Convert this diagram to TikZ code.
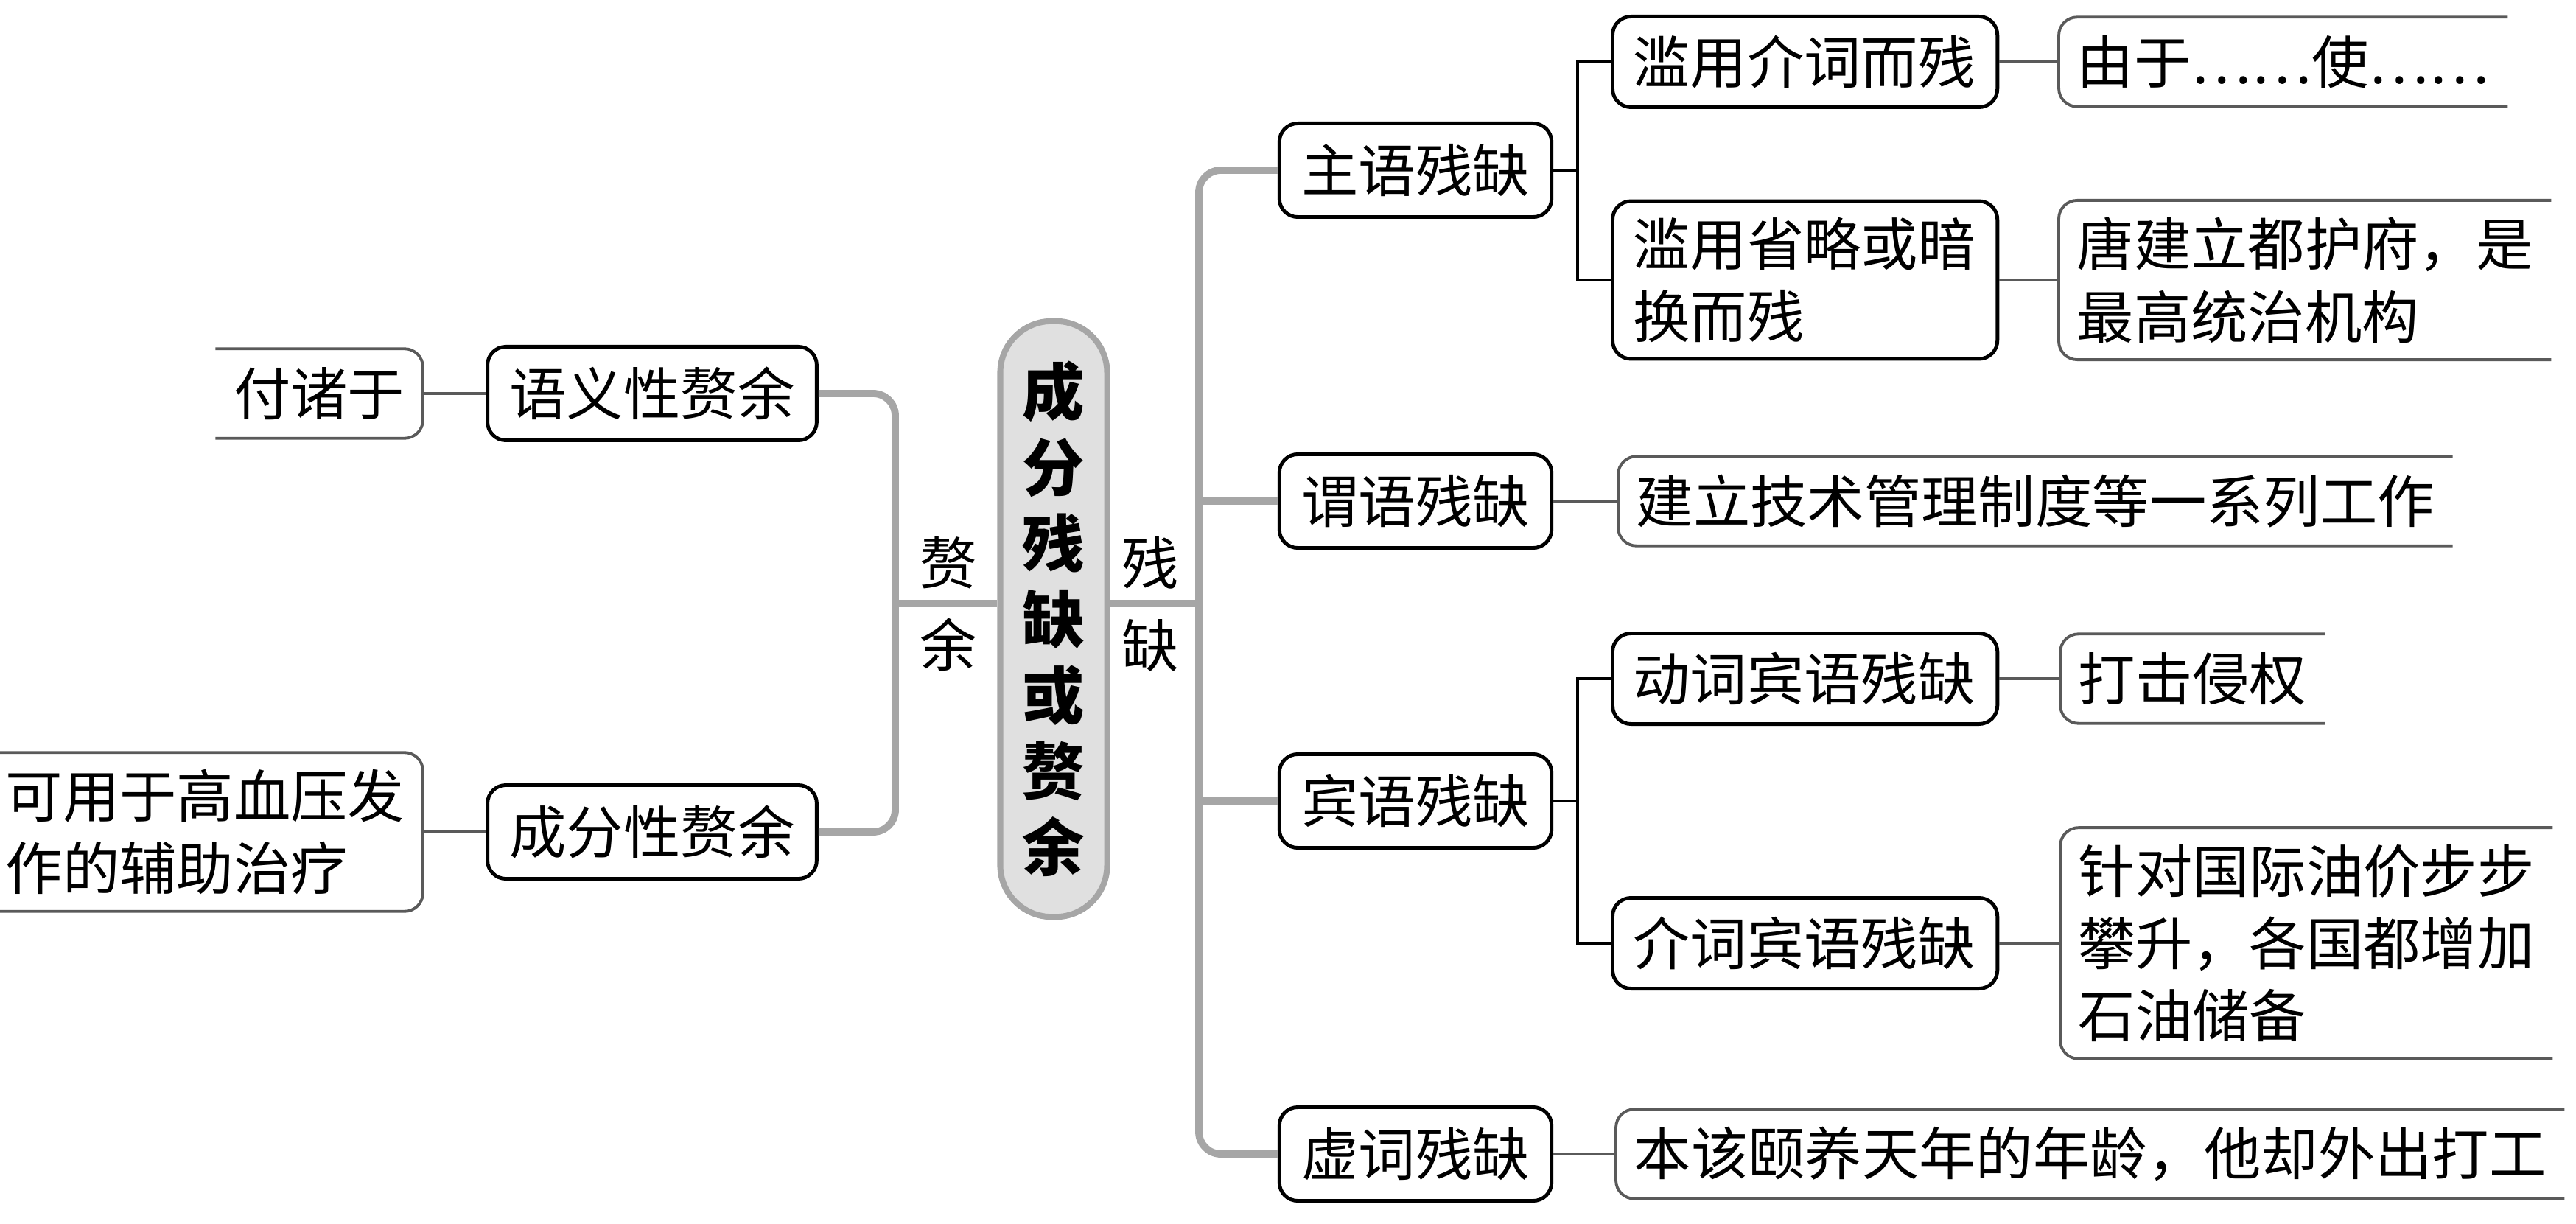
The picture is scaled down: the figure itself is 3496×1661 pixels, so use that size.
\documentclass[tikz,border=0pt]{standalone}
\usepackage{fontspec}
\setmainfont{Noto Sans CJK SC}
\definecolor{trunkgray}{HTML}{A6A6A6}
\definecolor{rootfill}{HTML}{E0E0E0}
\definecolor{leafgray}{HTML}{5A5A5A}
\tikzset{
  rootbox/.style={draw=trunkgray, fill=rootfill, line width=2.3pt, rounded corners=0.7cm,
    minimum width=1.45cm, minimum height=8.08cm, inner sep=0pt, align=center,
    font=\bfseries\fontsize{24pt}{29.3pt}\selectfont},
  topic/.style={draw, line width=1.4pt, rounded corners=0.25cm, minimum height=1.27cm,
    inner xsep=0.3cm, font=\fontsize{22pt}{28pt}\selectfont},
  subtopic/.style={draw, line width=1.4pt, rounded corners=0.25cm, minimum height=1.23cm,
    inner xsep=0.28cm, inner ysep=0.22cm, text width=4.66cm, align=left, anchor=west,
    font=\fontsize{22pt}{28pt}\selectfont},
  leaf/.style={inner xsep=0.24cm, inner ysep=0.22cm, minimum height=1.2cm, align=left,
    font=\fontsize{22pt}{28pt}\selectfont},
  sidelabel/.style={inner sep=0pt, align=center, font=\fontsize{22pt}{31.6pt}\selectfont},
  trunk/.style={draw=trunkgray, line width=2.8pt},
  branch/.style={draw, line width=1.4pt},
  leafconn/.style={draw=leafgray, line width=1.4pt},
  leafline/.style={draw=leafgray, line width=1.1pt, rounded corners=0.25cm}
}
\begin{document}
\begin{tikzpicture}[x=0.01cm, y=-0.01cm]
\useasboundingbox (0,0) rectangle (3496,1661);
% root
\node[rootbox] (main) at (1430,840) {成\\分\\残\\缺\\或\\赘\\余};
\coordinate (rj) at (1627,819);
\coordinate (lj) at (1215,819);
\node[sidelabel] (quelabel) at (1561,820) {残\\缺};
\node[sidelabel] (yulabel) at (1287,820) {赘\\余};
% left side
\node[topic] (yiyi) at (885,534) {语义性赘余};
\node[topic] (chengfen) at (885,1129) {成分性赘余};
\node[leaf, anchor=east] (fu) at (574,534) {付诸于};
\node[leaf, anchor=east] (ke) at (574,1129) {可用于高血压发\\作的辅助治疗};
% right side
\node[topic] (zhu) at (1921,231) {主语残缺};
\node[topic] (wei) at (1921,680) {谓语残缺};
\node[topic] (bin) at (1921,1087) {宾语残缺};
\node[topic] (xu) at (1921,1566) {虚词残缺};
\node[subtopic] (lan1) at (2186,84) {滥用介词而残};
\node[subtopic] (lan2) at (2186,380) {滥用省略或暗\\换而残};
\node[subtopic] (dong) at (2186,921) {动词宾语残缺};
\node[subtopic] (jie) at (2186,1280) {介词宾语残缺};
\node[leaf, anchor=west] (you) at (2794,84) {由于……使……};
\node[leaf, anchor=west] (tang) at (2794,380) {唐建立都护府，是\\最高统治机构};
\node[leaf, anchor=west] (jian) at (2196,680) {建立技术管理制度等一系列工作};
\node[leaf, anchor=west] (da) at (2796,921) {打击侵权};
\node[leaf, anchor=west] (zhen) at (2796,1280) {针对国际油价步步\\攀升，各国都增加\\石油储备};
\node[leaf, anchor=west] (ben) at (2193,1566) {本该颐养天年的年龄，他却外出打工};
% trunk lines
\draw[trunk] (rj -| main.east) -- (rj);
\draw[trunk, rounded corners=0.3cm] (zhu.west) -| (rj) |- (xu.west);
\draw[trunk] (wei.west) -- (wei.west -| rj);
\draw[trunk] (bin.west) -- (bin.west -| rj);
\draw[trunk] (lj -| main.west) -- (lj);
\draw[trunk, rounded corners=0.3cm] (yiyi.east) -| (lj) |- (chengfen.east);
% second level
\coordinate (zj) at (2141,231);
\coordinate (bj) at (2141,1087);
\draw[branch] (zhu.east) -- (zj);
\draw[branch] (lan1.west) -| (zj) |- (lan2.west);
\draw[branch] (bin.east) -- (bj);
\draw[branch] (dong.west) -| (bj) |- (jie.west);
% leaves
\draw[leafconn] (yiyi.west) -- (fu.east);
\draw[leafconn] (chengfen.west) -- (ke.east);
\draw[leafconn] (lan1.east) -- (you.west);
\draw[leafconn] (lan2.east) -- (tang.west);
\draw[leafconn] (wei.east) -- (jian.west);
\draw[leafconn] (dong.east) -- (da.west);
\draw[leafconn] (jie.east) -- (zhen.west);
\draw[leafconn] (xu.east) -- (ben.west);
\foreach \n in {you,tang,jian,da,zhen,ben}
  \draw[leafline] (\n.north east) -- (\n.north west) -- (\n.south west) -- (\n.south east);
\foreach \n in {fu,ke}
  \draw[leafline] (\n.north west) -- (\n.north east) -- (\n.south east) -- (\n.south west);
\end{tikzpicture}
\end{document}
